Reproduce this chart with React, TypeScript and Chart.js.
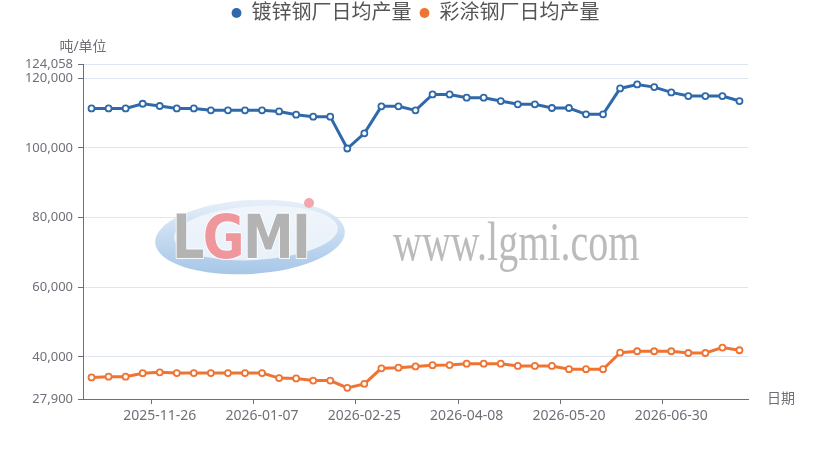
import React, { useEffect, useRef } from 'react';
import { Chart, registerables } from 'chart.js';

Chart.register(...registerables);

// weekly dates (the week of 02-18 is missing in the source)
const dates = [
  '2025-10-29', '2025-11-05', '2025-11-12', '2025-11-19', '2025-11-26', '2025-12-03',
  '2025-12-10', '2025-12-17', '2025-12-24', '2025-12-31', '2026-01-07', '2026-01-14',
  '2026-01-21', '2026-01-28', '2026-02-04', '2026-02-11', '2026-02-25', '2026-03-04',
  '2026-03-11', '2026-03-18', '2026-03-25', '2026-04-01', '2026-04-08', '2026-04-15',
  '2026-04-22', '2026-04-29', '2026-05-06', '2026-05-13', '2026-05-20', '2026-05-27',
  '2026-06-03', '2026-06-10', '2026-06-17', '2026-06-24', '2026-06-30', '2026-07-08',
  '2026-07-15', '2026-07-22', '2026-07-29',
];

// 镀锌钢厂日均产量
const galvanized = [
  111300, 111300, 111300, 112650, 112000, 111300, 111300, 110750, 110750, 110750,
  110750, 110450, 109500, 108950, 108950, 99800, 104150, 111900, 111900, 110750,
  115330, 115330, 114380, 114380, 113430, 112480, 112480, 111430, 111430, 109620,
  109620, 117050, 118190, 117430, 115900, 114860, 114860, 114860, 113430,
];

// 彩涂钢厂日均产量
const colorCoated = [
  34100, 34300, 34300, 35300, 35550, 35350, 35350, 35350, 35350, 35350,
  35350, 33900, 33800, 33200, 33200, 31100, 32250, 36700, 36900, 37250,
  37600, 37650, 38050, 38050, 38050, 37400, 37400, 37400, 36450, 36450,
  36450, 41200, 41600, 41600, 41600, 41100, 41100, 42650, 41900,
];

const yTicks = [27900, 40000, 60000, 80000, 100000, 120000, 124058];
const seriesNames = ['镀锌钢厂日均产量', '彩涂钢厂日均产量'];
const colors = ['#2f69aa', '#ef7433'];
const axisColor = '#6e7079';

const labelEvery = 6;
const labelStart = 4;
const showLabel = (i: number) => i >= labelStart && (i - labelStart) % labelEvery === 0;

const extras = {
  id: 'extras',
  beforeLayout(chart: any) {
    // keep the legend on top, leave room below it for the unit label
    const lg = chart.legend;
    if (lg && !lg._tall) {
      const orig = lg.fit.bind(lg);
      lg.fit = () => {
        orig();
        lg.height = 69;
      };
      lg._tall = true;
    }
  },
  beforeDatasetsDraw(chart: any) {
    const ctx = chart.ctx;
    ctx.save();
    // watermark: ellipse logo
    const grad = ctx.createLinearGradient(0, 200, 0, 275);
    grad.addColorStop(0, 'rgba(228,238,248,0.9)');
    grad.addColorStop(1, 'rgba(150,188,228,0.85)');
    ctx.beginPath();
    ctx.ellipse(250, 237, 95, 37, -0.06, 0, Math.PI * 2);
    ctx.fillStyle = grad;
    ctx.fill();
    ctx.beginPath();
    ctx.ellipse(256, 233, 82, 27, -0.06, 0, Math.PI * 2);
    ctx.fillStyle = 'rgba(242,247,252,0.85)';
    ctx.fill();

    ctx.save();
    ctx.translate(172, 258);
    ctx.scale(0.85, 1);
    ctx.font = 'bold 60px "DejaVu Sans"';
    ctx.textBaseline = 'alphabetic';
    ctx.lineWidth = 2;
    ctx.strokeStyle = 'rgba(255,255,255,0.9)';
    let x = 0;
    ['L', 'G', 'M', 'I'].forEach((ch) => {
      ctx.fillStyle = ch === 'G' ? '#ee979c' : '#b3b3b3';
      ctx.strokeText(ch, x, 0);
      ctx.fillText(ch, x, 0);
      x += ctx.measureText(ch).width - 2;
    });
    ctx.restore();
    ctx.beginPath();
    ctx.arc(309, 203, 5, 0, Math.PI * 2);
    ctx.fillStyle = '#f2a6ad';
    ctx.fill();

    // watermark: site text
    ctx.save();
    ctx.translate(393, 260);
    ctx.scale(1, 1.35);
    ctx.font = '40px "Liberation Serif"';
    ctx.fillStyle = 'rgba(175,175,175,0.85)';
    ctx.textBaseline = 'alphabetic';
    ctx.fillText('www.lgmi.com', 0, 0);
    ctx.restore();
    ctx.restore();
  },
  afterDraw(chart: any) {
    const ctx = chart.ctx;
    const { left, right, bottom } = chart.chartArea;
    ctx.save();
    ctx.font = '14px "Noto Sans", "Noto Sans CJK SC", sans-serif';
    ctx.fillStyle = axisColor;
    ctx.textBaseline = 'middle';
    ctx.textAlign = 'center';
    ctx.fillText('吨/单位', left, 47);
    ctx.textAlign = 'left';
    ctx.fillText('日期', right + 19, bottom);
    ctx.restore();
  },
};

const App = () => {
  const chartRef = useRef<HTMLCanvasElement | null>(null);

  useEffect(() => {
    const ctx = chartRef.current!.getContext('2d')!;
    Chart.defaults.font.family = '"Noto Sans", "Noto Sans CJK SC", sans-serif';

    const chart = new Chart(ctx, {
      type: 'line',
      data: {
        labels: dates,
        datasets: [galvanized, colorCoated].map((d, i) => ({
          label: seriesNames[i],
          data: d,
          borderColor: colors[i],
          backgroundColor: colors[i],
          borderWidth: 3,
          pointRadius: 3,
          pointBorderWidth: 1.8,
          pointBackgroundColor: '#ffffff',
          pointBorderColor: colors[i],
          tension: 0,
          fill: false,
        })),
      },
      options: {
        animation: false,
        responsive: true,
        maintainAspectRatio: false,
        layout: { padding: { top: -5, left: 0, right: 0, bottom: 0 } },
        plugins: {
          legend: {
            position: 'top',
            labels: {
              usePointStyle: true,
              boxWidth: 10,
              boxHeight: 7,
              padding: 8,
              color: '#555555',
              font: { size: 20 },
              generateLabels: (c: any) => {
                const items = Chart.defaults.plugins.legend.labels.generateLabels(c);
                items.forEach((it: any, i: number) => {
                  it.fillStyle = colors[i];
                  it.strokeStyle = colors[i];
                  it.lineWidth = 0;
                  it.pointStyle = 'circle';
                });
                return items;
              },
            },
          },
          tooltip: { enabled: false },
        },
        scales: {
          x: {
            type: 'category',
            offset: true,
            afterFit: (s: any) => {
              s.height = 77;
              s.paddingRight = 83;
            },
            border: { display: true, color: axisColor, width: 1 },
            grid: {
              offset: true,
              drawOnChartArea: false,
              drawTicks: true,
              tickLength: 5,
              tickColor: (c: any) =>
                showLabel(c.index) || c.index === dates.length ? axisColor : 'rgba(0,0,0,0)',
            },
            ticks: {
              autoSkip: false,
              maxRotation: 0,
              minRotation: 0,
              padding: 4,
              color: axisColor,
              font: { size: 14 },
              callback: (_v: any, i: number) => (showLabel(i) ? dates[i] : ''),
            },
          },
          y: {
            type: 'linear',
            min: 27900,
            max: 124058,
            afterFit: (s: any) => {
              s.width = 83;
            },
            afterBuildTicks: (s: any) => {
              s.ticks = yTicks.map((v) => ({ value: v }));
            },
            border: { display: true, color: axisColor, width: 1 },
            grid: {
              color: '#e0e6f1',
              lineWidth: 1,
              drawTicks: true,
              tickLength: 5,
              tickColor: axisColor,
            },
            ticks: {
              autoSkip: false,
              padding: 5,
              color: axisColor,
              font: { size: 13 },
              callback: (v: any) => Number(v).toLocaleString('en-US'),
            },
          },
        },
      },
      plugins: [extras],
    });

    return () => {
      chart.destroy();
    };
  }, []);

  return (
    <div style={{ position: 'fixed', left: 0, top: 0, width: 831, height: 476, background: '#fff' }}>
      <canvas ref={chartRef} />
    </div>
  );
};

export default App;
